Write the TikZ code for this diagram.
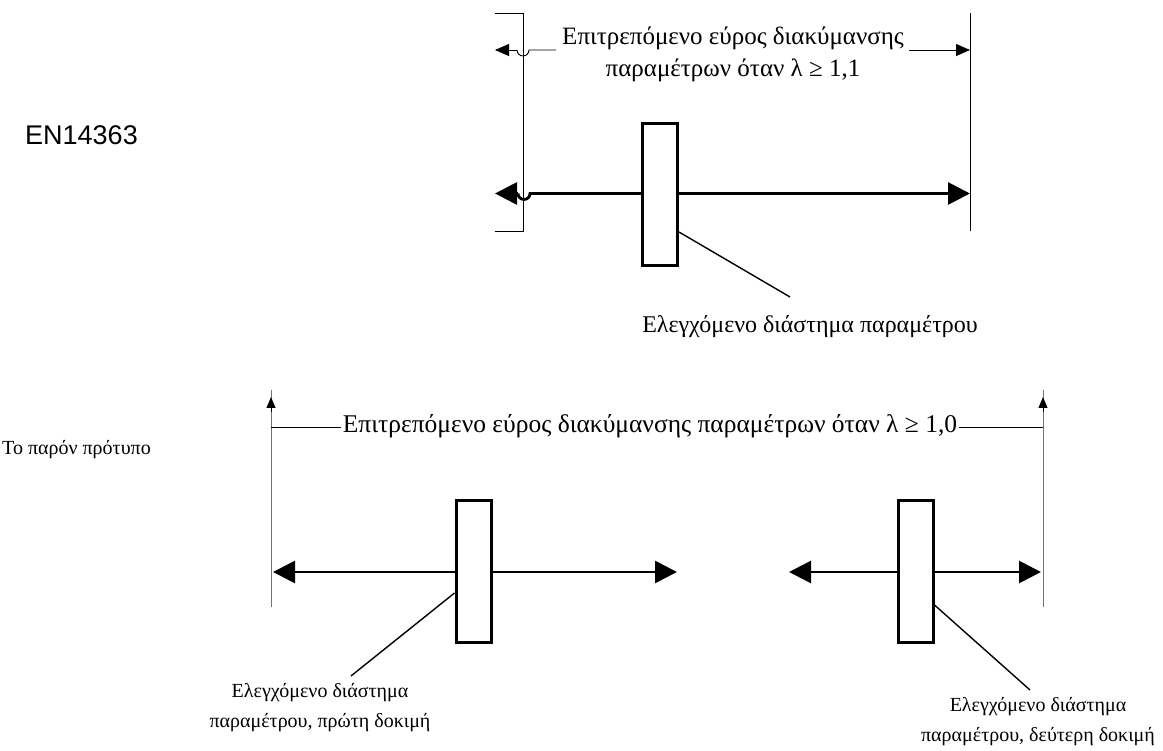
\documentclass[tikz,border=0pt]{standalone}
\usepackage{fontspec}
\setmainfont{Liberation Serif}
\newfontfamily\arialfont{Liberation Sans}
\usetikzlibrary{arrows.meta}
\begin{document}
\begin{tikzpicture}[x=1pt,y=-1pt,
  thinln/.style={line width=0.9pt},
  grayln/.style={line width=0.9pt, draw=black!55},
  mainln/.style={line width=2.8pt},
  bigtip/.style={-{Triangle[length=22pt,width=22pt]}},
  smalltip/.style={-{Triangle[length=14pt,width=12pt]}},
  boxnode/.style={draw, line width=3pt, fill=white, minimum width=35pt, minimum height=142pt, inner sep=0pt},
  leader/.style={line width=1.4pt},
  lbl/.style={font=\fontsize{20}{30}\selectfont, align=center, inner sep=0pt},
  biglbl/.style={font=\fontsize{25}{32}\selectfont, align=center, inner sep=0pt}]
\useasboundingbox (0,0) rectangle (1163,751);

% ---------- top section ----------
\node[font=\arialfont\fontsize{27}{30}\selectfont, anchor=west, inner sep=0pt] (en) at (25,135) {EN14363};

% bracket and right limit
\coordinate (brTL) at (495,13);
\coordinate (brT) at (523,13);
\coordinate (brB) at (523,231);
\coordinate (brBL) at (495,231);
\draw[thinln] (brTL) -- (brT) -- (brB) -- (brBL);
\coordinate (rT) at (970,13);
\coordinate (rB) at (970,231);
\draw[thinln] (rT) -- (rB);

% dimension label
\node[biglbl] (dimtop) at (733,54) {Επιτρεπόμενο εύρος διακύμανσης\\παραμέτρων όταν λ ≥ 1,1};
\coordinate (dtL) at (495,50);
\coordinate (dtLh) at (517,50);
\coordinate (dtLe) at (556,50);
\coordinate (dtRs) at (909,50);
\coordinate (dtR) at (970,50);
\draw[thinln] (dtLe) -- (529,50) arc (0:180:6);
\draw[thinln,smalltip] (dtLh) -- (dtL);
\draw[thinln,smalltip] (dtRs) -- (dtR);

% main line and box
\node[boxnode] (box1) at (660,194.5) {};
\coordinate (mlL) at (495,193.5);
\coordinate (mlLh) at (518,193.5);
\coordinate (mlR) at (970,193.5);
\draw[mainln] (box1.west |- mlL) -- (530,193.5) arc (0:180:6);
\draw[mainln,bigtip] (mlLh) -- (mlL);
\draw[mainln,bigtip] (box1.east |- mlR) -- (mlR);

\node[lbl, font=\fontsize{24}{30}\selectfont] (lab1) at (810,327) {Ελεγχόμενο διάστημα παραμέτρου};
\coordinate (ld1) at (790,297);
\draw[leader] (box1.east |- 0,232) -- (ld1);

% ---------- bottom section ----------
\node[lbl, anchor=west] (std) at (2,450) {Το παρόν πρότυπο};

\coordinate (vLT) at (271,390);
\coordinate (vLB) at (271,607);
\coordinate (vRT) at (1043,390);
\coordinate (vRB) at (1043,607);
\draw[grayln] (vLT) -- (vLB);
\draw[grayln] (vRT) -- (vRB);
\draw[thinln,-{Triangle[length=11pt,width=9pt]}] (271,412) -- (271,397);
\draw[thinln,-{Triangle[length=11pt,width=9pt]}] (1043,412) -- (1043,397);

\node[biglbl, font=\fontsize{25.5}{30}\selectfont, inner xsep=2pt] (dimbot) at (650,426) {Επιτρεπόμενο εύρος διακύμανσης παραμέτρων όταν λ ≥ 1,0};
\draw[thinln] (271,427) -- (dimbot.west |- 0,427);
\draw[thinln] (dimbot.east |- 0,427) -- (1043,427);

% first test
\node[boxnode] (box2) at (473.5,571.5) {};
\coordinate (a1L) at (273,572);
\coordinate (a1R) at (677,572);
\draw[mainln,bigtip] (box2.west |- a1L) -- (a1L);
\draw[mainln,bigtip] (box2.east |- a1R) -- (a1R);

% second test
\node[boxnode] (box3) at (915.5,571.5) {};
\coordinate (a2L) at (789,572);
\coordinate (a2R) at (1041,572);
\draw[mainln,bigtip] (box3.west |- a2L) -- (a2L);
\draw[mainln,bigtip] (box3.east |- a2R) -- (a2R);

\node[lbl] (lab2) at (320,708) {Ελεγχόμενο διάστημα\\παραμέτρου, πρώτη δοκιμή};
\coordinate (ld2) at (351,676);
\draw[leader] (box2.west |- 0,593) -- (ld2);

\node[lbl] (lab3) at (1038,722) {Ελεγχόμενο διάστημα\\παραμέτρου, δεύτερη δοκιμή};
\coordinate (ld3) at (1030,690);
\draw[leader] (box3.east |- 0,605) -- (ld3);
\end{tikzpicture}
\end{document}
